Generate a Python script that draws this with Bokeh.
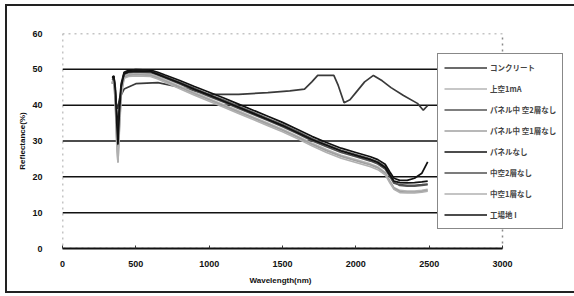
from bokeh.plotting import figure
from bokeh.models import Legend, LegendItem, FixedTicker, Range1d, Title
from bokeh.embed import file_html
from bokeh.resources import INLINE

# ---- data ----
x_ticks = [0, 500, 1000, 1500, 2000, 2500, 3000]
y_ticks = [0, 10, 20, 30, 40, 50, 60]
grid_y = [10, 20, 30, 40, 50]
x_max = 3000
y_max = 60

wl = [340, 350, 360, 370, 378, 388, 400, 420, 450, 500, 600, 650, 700, 800, 900,
      1000, 1100, 1200, 1300, 1400, 1500, 1600, 1700, 1800, 1900, 2000, 2100, 2150,
      2200, 2230, 2260, 2300, 2350, 2400, 2450, 2490]

concrete_wl = [340, 348, 355, 365, 375, 390, 420, 500, 650, 800, 1000, 1200, 1400, 1550,
               1650, 1700, 1740, 1850, 1880, 1920, 1960, 2000, 2060, 2120, 2180, 2240,
               2325, 2420, 2460, 2490]
concrete = [46, 48, 45, 40, 39, 42, 44.5, 46, 46.3, 45, 43, 43, 43.5, 44, 44.5, 46.5,
            48.3, 48.3, 45.5, 40.7, 41.5, 43.5, 46.5, 48.3, 46.8, 44.9, 42.7, 40.5, 38.6, 39.9]

joku = [46.5, 47.5, 42, 31, 26, 35, 44, 48, 48.6, 48.8, 48.6, 47.9, 47.0, 45.3, 43.5,
        41.8, 40.1, 38.4, 36.7, 35.0, 33.3, 31.4, 29.4, 27.6, 26.0, 24.8, 23.6, 22.8,
        21.2, 19.0, 17.0, 16.2, 16.0, 16.0, 16.2, 16.5]
panel_2 = [47.5, 48, 44, 36, 30, 38, 45, 49, 49.5, 49.6, 49.5, 48.8, 48.0, 46.4, 44.7,
           43.0, 41.4, 39.7, 38.0, 36.3, 34.6, 32.7, 30.7, 29.0, 27.4, 26.2, 25.0, 24.2,
           22.8, 20.8, 18.5, 17.6, 17.4, 17.4, 17.6, 17.8]
panel_1 = [46, 47, 41, 30, 24, 34, 43, 47.8, 48.3, 48.5, 48.3, 47.6, 46.7, 45.0, 43.2,
           41.5, 39.8, 38.1, 36.4, 34.7, 33.0, 31.1, 29.1, 27.3, 25.7, 24.5, 23.3, 22.5,
           21.0, 18.8, 16.8, 15.9, 15.7, 15.7, 15.9, 16.2]
no_panel = [47.8, 48.2, 45, 38, 33, 40, 46, 49.2, 49.7, 49.9, 49.8, 49.2, 48.4, 46.9, 45.2,
            43.6, 42.0, 40.3, 38.6, 36.9, 35.2, 33.3, 31.3, 29.6, 28.0, 26.8, 25.6, 24.8,
            23.5, 21.5, 19.6, 19.0, 19.0, 19.6, 21.0, 24.2]
hollow_2 = [47, 47.8, 43, 34, 28, 37, 44.5, 48.6, 49.1, 49.3, 49.1, 48.4, 47.6, 45.9, 44.1,
            42.4, 40.8, 39.1, 37.4, 35.7, 34.0, 32.1, 30.1, 28.4, 26.8, 25.6, 24.4, 23.6,
            22.2, 20.2, 18.2, 17.8, 17.6, 17.6, 17.8, 18.0]
hollow_1 = [46, 46.8, 41, 29, 24, 33, 42.5, 47.5, 48, 48.2, 48, 47.3, 46.4, 44.6, 42.8,
            41.1, 39.4, 37.7, 36.0, 34.3, 32.6, 30.7, 28.7, 26.8, 25.2, 24.0, 22.8, 22.0,
            20.6, 18.5, 16.5, 15.6, 15.5, 15.5, 15.7, 16.0]
site_1 = [47.5, 48, 44, 35, 29, 38, 45, 48.8, 49.3, 49.5, 49.4, 48.6, 47.8, 46.2, 44.4,
          42.8, 41.1, 39.4, 37.7, 36.0, 34.3, 32.4, 30.4, 28.8, 27.2, 26.0, 24.8, 24.0,
          22.6, 20.6, 18.8, 18.4, 18.3, 18.4, 18.6, 18.8]

labels = ["コンクリート", "上空1mA", "パネル中 空2層なし", "パネル中 空1層なし",
          "パネルなし", "中空2層なし", "中空1層なし", "工場地 I"]
colors = ["#3a3a3a", "#b4b4b4", "#555555", "#a0a0a0", "#111111", "#505050", "#b0b0b0", "#111111"]

# ---- figure ----
# frame spans 0..3000 at 440 px; it is widened to the right so the legend can overhang
p = figure(width=574, height=296, output_backend="svg", toolbar_location=None,
           x_range=Range1d(0, x_max * 510 / 440), y_range=Range1d(0, y_max),
           min_border_left=62, min_border_right=2, min_border_top=33, min_border_bottom=48)
p.background_fill_color = "white"
p.border_fill_color = "white"
p.border_fill_alpha = 0
p.outline_line_color = None
p.styles = {
    "box-shadow": ("inset 5px 0 0 white, inset 0 4px 0 white, inset 0 -3px 0 white, "
                   "inset 7px 0 0 #222, inset 0 6px 0 #222, inset 0 -5px 0 #222"),
    "background-color": "white",
}

# plot-area box (dotted) and horizontal gridlines
p.quad(left=[0], right=[x_max], bottom=[0], top=[y_max], fill_alpha=0,
       line_color="#8a8a8a", line_dash="dotted", line_width=1.5)
p.segment(x0=[0] * len(grid_y), x1=[x_max] * len(grid_y), y0=grid_y, y1=grid_y,
          line_color="#111111", line_width=1.5)

series_x = [concrete_wl, wl, wl, wl, wl, wl, wl, wl]
series_y = [concrete, joku, panel_2, panel_1, no_panel, hollow_2, hollow_1, site_1]
renderers = []
for xs, ys, c in zip(series_x, series_y, colors):
    r = p.line(xs, ys, line_color=c, line_width=1.7)
    renderers.append(r)

# axes
font = "Liberation Sans"
p.xaxis.ticker = FixedTicker(ticks=x_ticks)
p.yaxis.ticker = FixedTicker(ticks=y_ticks)
p.xaxis.bounds = (0, x_max)
p.yaxis.axis_label = "Reflectance(%)"
for ax in (p.xaxis[0], p.yaxis[0]):
    ax.major_label_text_font = font
    ax.major_label_text_font_style = "bold"
    ax.major_label_text_font_size = "9px"
    ax.major_label_text_color = "#111111"
    ax.axis_label_text_font = font
    ax.axis_label_text_font_style = "bold"
    ax.axis_label_text_font_size = "8px"
    ax.axis_label_text_color = "#111111"
    ax.minor_tick_line_color = None
p.xaxis.axis_line_color = "#111111"
p.xaxis.axis_line_width = 2
p.xaxis.major_tick_in = 3
p.xaxis.major_tick_out = 0
p.xaxis.major_tick_line_color = "#333333"
p.xaxis.major_label_standoff = 12
p.yaxis.axis_line_color = None
p.yaxis.major_tick_line_color = None
p.yaxis.major_label_standoff = 14
p.yaxis.axis_label_standoff = 2

# x-axis title, centred under the 0..3000 span
xtitle = Title(text="Wavelength(nm)", align="left", offset=187, standoff=8,
               text_font=font, text_font_style="bold", text_font_size="8px",
               text_color="#111111")
p.add_layout(xtitle, "below")

p.xgrid.grid_line_color = None
p.ygrid.grid_line_color = None

# legend
items = [LegendItem(label=l, renderers=[r]) for l, r in zip(labels, renderers)]
legend = Legend(items=items, location=(375, 19), border_line_color="#111111",
                border_line_width=1.5, background_fill_color="white", background_fill_alpha=1,
                label_text_font="Noto Sans CJK JP", label_text_font_style="bold",
                label_text_font_size="7.5px", glyph_width=43, glyph_height=15,
                label_height=15, label_standoff=3, spacing=6, padding=6, margin=0)
p.add_layout(legend, "center")

open("out.html", "w").write(file_html(p, INLINE))
